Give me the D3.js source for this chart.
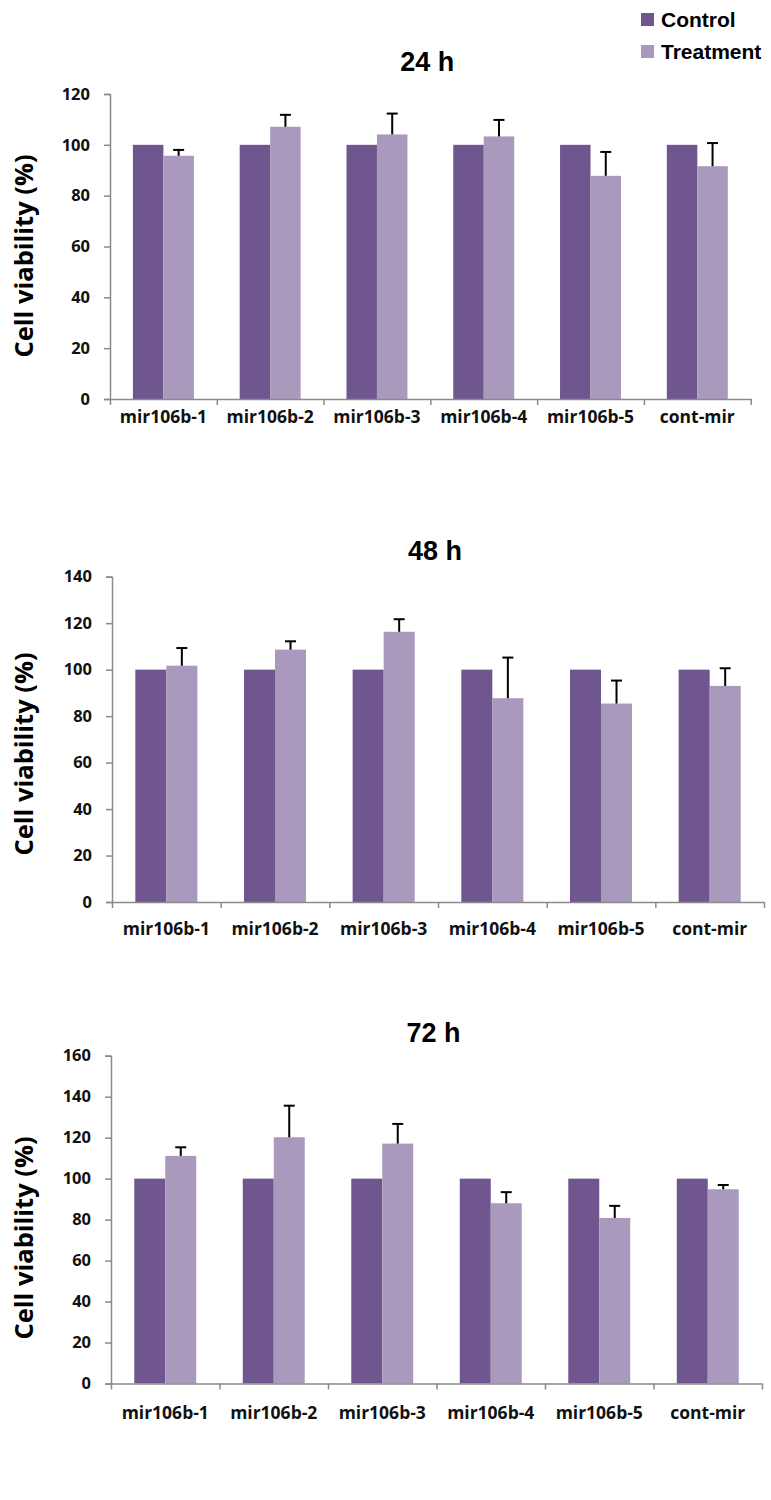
<!DOCTYPE html>
<html>
<head>
<meta charset="utf-8">
<script src="https://cdn.jsdelivr.net/npm/d3@7"></script>
<style>
  html, body { margin: 0; padding: 0; background: #fff; }
  svg { display: block; }
</style>
</head>
<body>
<svg id="chart" width="771" height="1500"></svg>
<script>
// ---------------- DATA ----------------
const categories = ["mir106b-1", "mir106b-2", "mir106b-3", "mir106b-4", "mir106b-5", "cont-mir"];
const seriesNames = ["Control", "Treatment"];

const control24 = [100, 100, 100, 100, 100, 100];
const treat24   = [95.7, 107.1, 104.1, 103.3, 87.8, 91.6];
const err24     = [2.3, 4.7, 8.2, 6.5, 9.4, 9.1];

const control48 = [100, 100, 100, 100, 100, 100];
const treat48   = [101.7, 108.6, 116.3, 87.7, 85.4, 93.0];
const err48     = [7.6, 3.6, 5.4, 17.5, 9.9, 7.6];

const control72 = [100, 100, 100, 100, 100, 100];
const treat72   = [111.1, 120.2, 117.1, 88.0, 80.8, 94.8];
const err72     = [4.2, 15.4, 9.6, 5.4, 5.9, 2.1];

const titles = ["24 h", "48 h", "72 h"];
const yMaxes = [120, 140, 160];
const yTickStep = 20;
const yLabel = "Cell viability (%)";

// ---------------- LAYOUT ----------------
const colors = { Control: "#6f568f", Treatment: "#a899bd" };
const panels = [
  { title: titles[0], control: control24, treat: treat24, err: err24, yMax: yMaxes[0],
    x0: 110, x1: 750.7, yTop: 94, yBot: 399, titleY: 70.7, labelY: 423, yLabelC: 256 },
  { title: titles[1], control: control48, treat: treat48, err: err48, yMax: yMaxes[1],
    x0: 112, x1: 764, yTop: 576.7, yBot: 902, titleY: 560, labelY: 935, yLabelC: 754 },
  { title: titles[2], control: control72, treat: treat72, err: err72, yMax: yMaxes[2],
    x0: 111, x1: 762, yTop: 1055.7, yBot: 1383.5, titleY: 1041.7, labelY: 1419, yLabelC: 1238 }
];

const svg = d3.select("#chart");
const axisColor = "#8a8a8a";
const labelFont = "'Open Sans', Lato, sans-serif";

panels.forEach(p => {
  const g = svg.append("g");
  const x = d3.scaleBand().domain(categories).range([p.x0, p.x1])
    .paddingInner(0.429).paddingOuter(0.2145);
  const xs = d3.scaleBand().domain(seriesNames).range([0, x.bandwidth()]).padding(0);
  const y = d3.scaleLinear().domain([0, p.yMax]).range([p.yBot, p.yTop]);

  const rows = categories.map((c, i) => ({ cat: c, Control: p.control[i], Treatment: p.treat[i], err: p.err[i] }));

  // bars
  const grp = g.selectAll(".grp").data(rows).join("g")
    .attr("transform", d => `translate(${x(d.cat)},0)`);
  grp.selectAll("rect").data(d => seriesNames.map(s => ({ s, v: d[s] }))).join("rect")
    .attr("x", d => xs(d.s))
    .attr("width", xs.bandwidth())
    .attr("y", d => y(d.v))
    .attr("height", d => y(0) - y(d.v))
    .attr("fill", d => colors[d.s]);

  // error bars (upper only) on treatment
  const capW = 11;
  const cx = xs("Treatment") + xs.bandwidth() / 2;
  grp.append("line")
    .attr("x1", cx).attr("x2", cx)
    .attr("y1", d => y(d.Treatment))
    .attr("y2", d => y(d.Treatment + d.err))
    .attr("stroke", "#000").attr("stroke-width", 2);
  grp.append("line")
    .attr("x1", cx - capW / 2).attr("x2", cx + capW / 2)
    .attr("y1", d => y(d.Treatment + d.err))
    .attr("y2", d => y(d.Treatment + d.err))
    .attr("stroke", "#000").attr("stroke-width", 2);

  // y axis
  const yAxis = d3.axisLeft(y).tickValues(d3.range(0, p.yMax + 1, yTickStep))
    .tickSize(6).tickPadding(14).tickFormat(d3.format("d"));
  const ya = g.append("g").attr("transform", `translate(${p.x0},0)`).call(yAxis);
  ya.select(".domain").attr("stroke", axisColor).attr("stroke-width", 1.5);
  ya.selectAll(".tick line").attr("stroke", axisColor).attr("stroke-width", 1.5);
  ya.selectAll(".tick text")
    .attr("font-family", labelFont)
    .attr("font-weight", "bold").attr("font-size", 16.5).attr("fill", "#111");

  // x axis: line with boundary ticks
  const xb = d3.scaleLinear().domain([0, categories.length]).range([p.x0, p.x1]);
  const xAxis = d3.axisBottom(xb).tickValues(d3.range(0, categories.length + 1))
    .tickSize(6).tickSizeOuter(0).tickFormat("");
  const xa = g.append("g").attr("transform", `translate(0,${p.yBot})`).call(xAxis);
  xa.select(".domain").attr("stroke", axisColor).attr("stroke-width", 1.5);
  xa.selectAll(".tick line").attr("stroke", axisColor).attr("stroke-width", 1.5);

  // category labels
  g.selectAll(".xl").data(categories).join("text")
    .attr("x", d => x(d) + x.bandwidth() / 2)
    .attr("y", p.labelY)
    .attr("text-anchor", "middle")
    .attr("font-family", labelFont)
    .attr("font-weight", "bold").attr("font-size", 17.5).attr("fill", "#111")
    .text(d => d);

  // title
  g.append("text")
    .attr("x", (p.x0 + p.x1) / 2 - 3)
    .attr("y", p.titleY)
    .attr("text-anchor", "middle")
    .attr("font-family", "'Liberation Sans', Arial, sans-serif")
    .attr("font-weight", "bold").attr("font-size", 27).attr("fill", "#000")
    .text(p.title);

  // y label
  g.append("text")
    .attr("transform", `translate(33,${p.yLabelC}) rotate(-90)`)
    .attr("text-anchor", "middle")
    .attr("font-family", labelFont)
    .attr("font-weight", "bold").attr("font-size", 25.5).attr("fill", "#000")
    .text(yLabel);
});

// legend
const leg = svg.append("g");
const legY = [13, 45];
seriesNames.forEach((s, i) => {
  leg.append("rect").attr("x", 641).attr("y", legY[i]).attr("width", 13).attr("height", 13)
    .attr("fill", colors[s]);
  leg.append("text").attr("x", 661).attr("y", legY[i] + 14)
    .attr("font-family", "'Liberation Sans', Arial, sans-serif")
    .attr("font-weight", "bold").attr("font-size", 21).attr("fill", "#000")
    .text(s);
});
</script>
</body>
</html>
